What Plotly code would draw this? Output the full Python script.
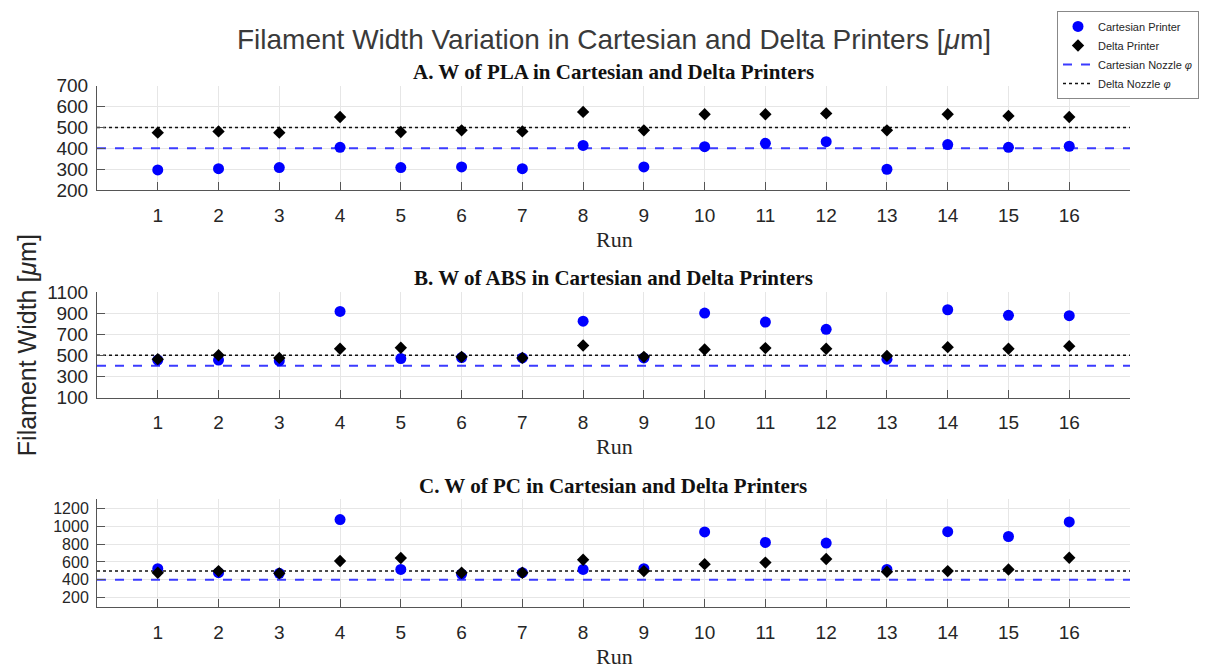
import plotly.graph_objects as go

runs = list(range(1, 17))

pla_cartesian = [297, 303, 308, 405, 308, 311, 303, 414, 311, 408, 424, 432, 300, 418, 405, 410]
pla_delta = [475, 481, 475, 550, 478, 486, 481, 574, 486, 563, 563, 567, 486, 563, 555, 550]

abs_cartesian = [455, 455, 448, 915, 469, 478, 475, 823, 475, 900, 814, 746, 463, 931, 878, 875]
abs_delta = [463, 500, 475, 562, 571, 485, 475, 592, 485, 555, 568, 562, 494, 577, 562, 586]

pc_cartesian = [525, 480, 473, 1073, 516, 465, 480, 516, 525, 935, 818, 811, 516, 938, 884, 1047]
pc_delta = [480, 498, 473, 611, 644, 480, 480, 625, 498, 575, 593, 633, 491, 498, 516, 647]

cartesian_nozzle = 400
delta_nozzle = 500

panel_titles = [
    "A. W of PLA in Cartesian and Delta Printers",
    "B. W of ABS in Cartesian and Delta Printers",
    "C. W of PC in Cartesian and Delta Printers",
]
y_ranges = [[200, 700], [100, 1100], [100, 1300]]
y_ticks = [[200, 300, 400, 500, 600, 700],
           [100, 300, 500, 700, 900, 1100],
           [200, 400, 600, 800, 1000, 1200]]
y_tick_sizes = [19, 19, 16]

W, H = 1211, 672
# pixel layout (top, bottom) of each panel's plot area
panel_px = [(78, 186), (291, 400), (505, 616)]
x_left, x_right = 97, 1130

def px_y(y):
    return 1 - y / H

fig = go.Figure()

data_sets = [(pla_cartesian, pla_delta), (abs_cartesian, abs_delta), (pc_cartesian, pc_delta)]

for i, (cart, delt) in enumerate(data_sets):
    xa = "x" if i == 0 else f"x{i+1}"
    ya = "y" if i == 0 else f"y{i+1}"
    show = i == 0
    fig.add_trace(go.Scatter(
        x=[0, 17], y=[cartesian_nozzle] * 2, mode="lines",
        line=dict(color="#3b3bff", width=2, dash="dash"),
        name="Cartesian Nozzle <i>φ</i>", showlegend=show, legendgroup="cn",
        legendrank=3, xaxis=xa, yaxis=ya, hoverinfo="skip"))
    fig.add_trace(go.Scatter(
        x=[0, 17], y=[delta_nozzle] * 2, mode="lines",
        line=dict(color="#111111", width=1.5, dash="dot"),
        name="Delta Nozzle <i>φ</i>", showlegend=show, legendgroup="dn",
        legendrank=4, xaxis=xa, yaxis=ya, hoverinfo="skip"))
    fig.add_trace(go.Scatter(
        x=runs, y=cart, mode="markers",
        marker=dict(color="#0000ff", size=11, symbol="circle"),
        name="Cartesian Printer", showlegend=show, legendgroup="cp",
        legendrank=1, xaxis=xa, yaxis=ya))
    fig.add_trace(go.Scatter(
        x=runs, y=delt, mode="markers",
        marker=dict(color="#000000", size=9.5, symbol="diamond"),
        name="Delta Printer", showlegend=show, legendgroup="dp",
        legendrank=2, xaxis=xa, yaxis=ya))

layout = dict(
    width=W, height=H,
    margin=dict(l=0, r=0, t=0, b=0),
    paper_bgcolor="white", plot_bgcolor="white",
    font=dict(family="Liberation Sans, Arial", color="#262626"),
    showlegend=True,
    legend=dict(
        x=1057 / W, y=px_y(1), xanchor="left", yanchor="top",
        bordercolor="#888888", borderwidth=1, bgcolor="white",
        font=dict(size=11, family="Liberation Sans, Arial", color="#262626"),
        tracegroupgap=0, itemwidth=30,
    ),
)

annotations = [
    dict(text="Filament Width Variation in Cartesian and Delta Printers [<i>μ</i>m]",
         x=614 / W, y=px_y(30), xref="paper", yref="paper", showarrow=False,
         xanchor="center", yanchor="middle",
         font=dict(size=28, family="Liberation Sans, Arial", color="#3a3a3a")),
    dict(text="Filament Width [<i>μ</i>m]",
         x=27 / W, y=px_y(346), xref="paper", yref="paper", showarrow=False,
         xanchor="center", yanchor="middle", textangle=-90,
         font=dict(size=25, family="Liberation Sans, Arial", color="#262626")),
]

for i in range(3):
    top, bot = panel_px[i]
    suffix = "" if i == 0 else str(i + 1)
    layout["xaxis" + suffix] = dict(
        domain=[x_left / W, x_right / W], range=[0, 17],
        anchor="y" + suffix,
        tickmode="array", tickvals=runs, ticktext=[str(r) for r in runs],
        ticks="inside", ticklen=8, tickcolor="#555555",
        showline=True, linecolor="#555555", linewidth=1,
        showgrid=True, gridcolor="#e6e6e6", gridwidth=1,
        zeroline=False, ticklabelstandoff=8,
        tickfont=dict(size=19, family="Liberation Sans, Arial", color="#262626"),
    )
    layout["yaxis" + suffix] = dict(
        domain=[px_y(bot), px_y(top)], range=y_ranges[i],
        anchor="x" + suffix,
        tickmode="array", tickvals=y_ticks[i],
        ticks="inside", ticklen=8, tickcolor="#555555",
        showline=True, linecolor="#555555", linewidth=1,
        showgrid=True, gridcolor="#e6e6e6", gridwidth=1,
        zeroline=False, ticklabelstandoff=4,
        tickfont=dict(size=y_tick_sizes[i], family="Liberation Sans, Arial", color="#262626"),
    )
    annotations.append(dict(
        text="<b>" + panel_titles[i] + "</b>",
        x=613 / W, y=px_y(top - 14), xref="paper", yref="paper", showarrow=False,
        xanchor="center", yanchor="middle",
        font=dict(size=21, family="Liberation Serif, Times New Roman", color="#111111")))
    annotations.append(dict(
        text="Run",
        x=614 / W, y=px_y(bot + 51), xref="paper", yref="paper", showarrow=False,
        xanchor="center", yanchor="middle",
        font=dict(size=22, family="Liberation Serif, Times New Roman", color="#262626")))

layout["annotations"] = annotations
fig.update_layout(**layout)

fig.write_html("out.html")
